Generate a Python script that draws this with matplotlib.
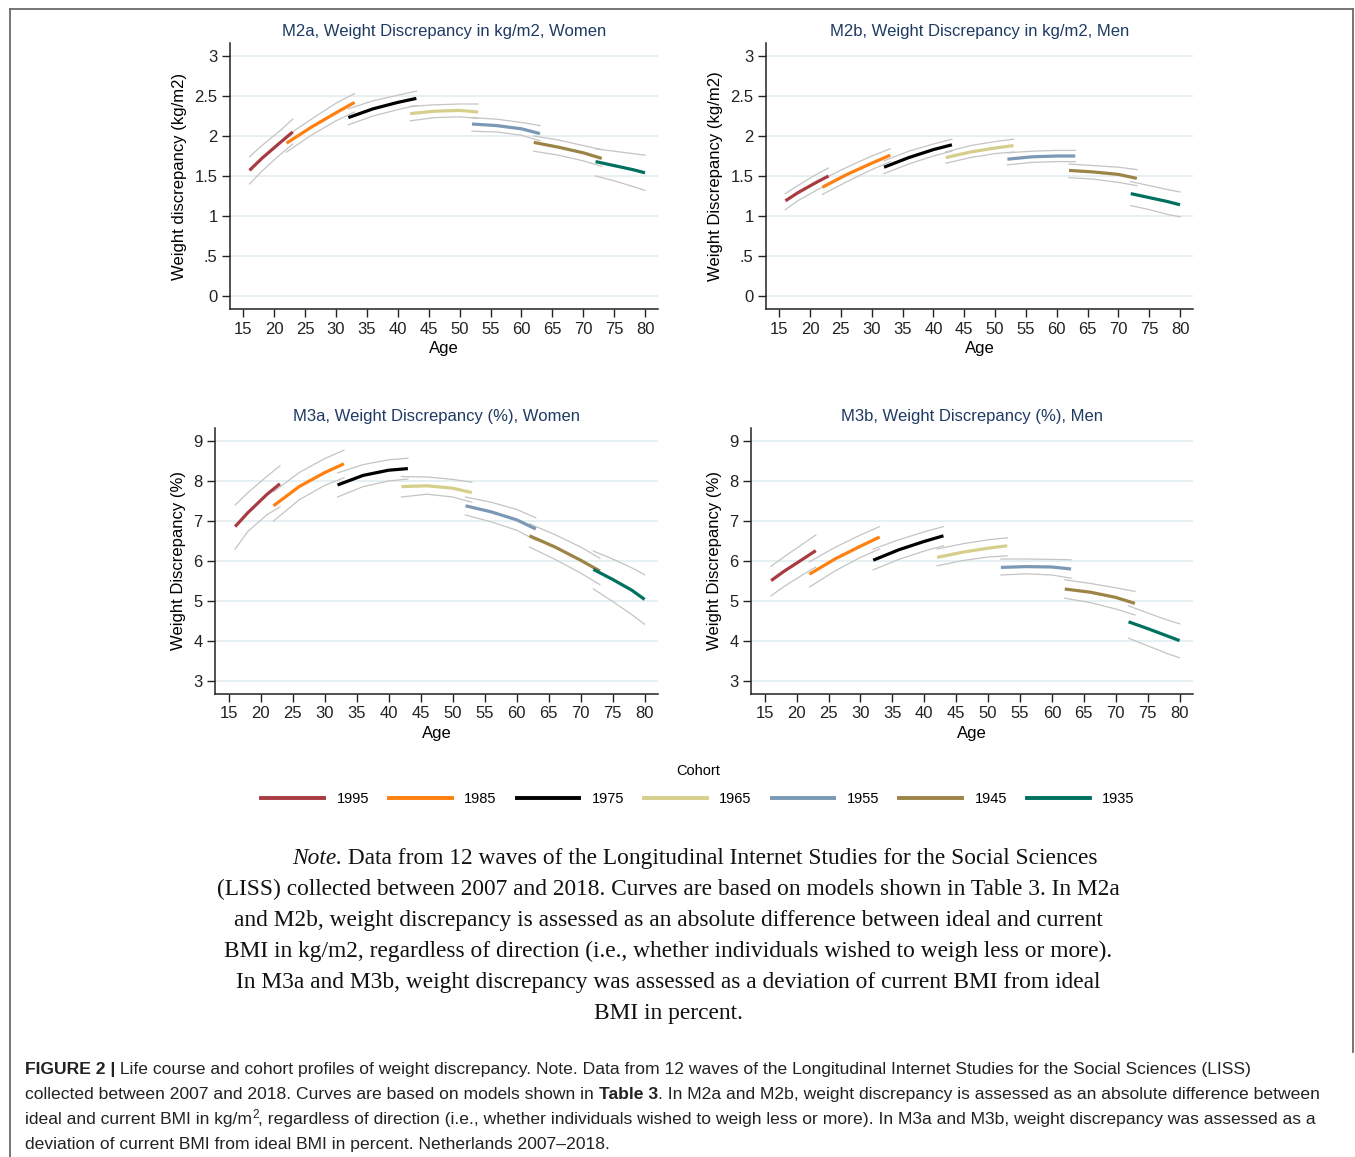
import numpy as np
import matplotlib
matplotlib.use("Agg")
from matplotlib import pyplot as plt
from matplotlib.lines import Line2D

# Data ------------------------------------------------------------------------------------------------------------
cohorts = ["1995", "1985", "1975", "1965", "1955", "1945", "1935"]
cohort_colors = ["#a83a42", "#ff8010", "#000000", "#d6cf8c", "#7b98b4", "#9c8447", "#00705f"]
ages = [[16, 18, 21, 23], [22, 26, 30, 33], [32, 36, 40, 43], [42, 46, 50, 53],
        [52, 56, 60, 63], [62, 66, 70, 73], [72, 75, 78, 80]]

m2a_est = [[1.57, 1.72, 1.92, 2.05], [1.91, 2.11, 2.29, 2.42], [2.23, 2.34, 2.42, 2.47], [2.28, 2.31, 2.32, 2.30],
           [2.15, 2.13, 2.09, 2.03], [1.92, 1.86, 1.79, 1.72], [1.68, 1.63, 1.58, 1.54]]
m2a_hi = [[1.74, 1.88, 2.07, 2.21], [2.00, 2.21, 2.41, 2.53], [2.34, 2.44, 2.51, 2.56], [2.37, 2.39, 2.40, 2.40],
          [2.23, 2.21, 2.17, 2.13], [2.00, 1.95, 1.88, 1.83], [1.84, 1.81, 1.78, 1.76]]
m2a_lo = [[1.40, 1.56, 1.77, 1.90], [1.80, 2.01, 2.19, 2.30], [2.14, 2.25, 2.33, 2.38], [2.19, 2.23, 2.24, 2.22],
          [2.06, 2.05, 2.01, 1.94], [1.81, 1.76, 1.69, 1.62], [1.50, 1.44, 1.37, 1.32]]

m2b_est = [[1.19, 1.29, 1.42, 1.50], [1.36, 1.52, 1.66, 1.76], [1.61, 1.73, 1.83, 1.89], [1.73, 1.80, 1.85, 1.88],
           [1.71, 1.74, 1.75, 1.75], [1.57, 1.55, 1.52, 1.47], [1.28, 1.23, 1.18, 1.14]]
m2b_hi = [[1.28, 1.38, 1.52, 1.60], [1.46, 1.61, 1.75, 1.84], [1.69, 1.81, 1.90, 1.96], [1.80, 1.88, 1.93, 1.96],
          [1.79, 1.81, 1.82, 1.82], [1.65, 1.63, 1.61, 1.58], [1.43, 1.38, 1.33, 1.30]]
m2b_lo = [[1.08, 1.19, 1.32, 1.40], [1.27, 1.43, 1.58, 1.68], [1.53, 1.65, 1.75, 1.81], [1.66, 1.73, 1.78, 1.80],
          [1.64, 1.67, 1.68, 1.68], [1.48, 1.46, 1.42, 1.38], [1.13, 1.08, 1.02, 0.99]]

m3a_est = [[6.86, 7.21, 7.67, 7.93], [7.38, 7.86, 8.21, 8.43], [7.90, 8.14, 8.27, 8.31], [7.86, 7.88, 7.82, 7.71],
           [7.38, 7.23, 7.03, 6.80], [6.63, 6.35, 6.02, 5.75], [5.79, 5.54, 5.27, 5.04]]
m3a_hi = [[7.40, 7.71, 8.12, 8.38], [7.73, 8.21, 8.56, 8.77], [8.20, 8.41, 8.53, 8.57], [8.11, 8.10, 8.04, 7.97],
          [7.60, 7.47, 7.29, 7.08], [6.93, 6.66, 6.35, 6.07], [6.25, 6.05, 5.83, 5.66]]
m3a_lo = [[6.30, 6.74, 7.16, 7.35], [7.00, 7.53, 7.89, 8.08], [7.60, 7.86, 8.00, 8.05], [7.60, 7.67, 7.60, 7.47],
          [7.15, 6.98, 6.77, 6.52], [6.35, 6.04, 5.70, 5.41], [5.30, 4.99, 4.66, 4.42]]

m3b_est = [[5.51, 5.74, 6.05, 6.26], [5.67, 6.05, 6.37, 6.60], [6.02, 6.28, 6.49, 6.63], [6.09, 6.22, 6.32, 6.38],
           [5.84, 5.86, 5.85, 5.80], [5.30, 5.22, 5.09, 4.94], [4.48, 4.31, 4.13, 4.01]]
m3b_hi = [[5.87, 6.10, 6.43, 6.65], [5.98, 6.34, 6.65, 6.86], [6.30, 6.53, 6.73, 6.86], [6.30, 6.43, 6.53, 6.58],
          [6.05, 6.05, 6.04, 6.03], [5.53, 5.44, 5.33, 5.24], [4.88, 4.70, 4.53, 4.43]]
m3b_lo = [[5.13, 5.36, 5.66, 5.85], [5.35, 5.75, 6.09, 6.30], [5.78, 6.04, 6.25, 6.38], [5.88, 6.01, 6.10, 6.13],
          [5.65, 5.68, 5.65, 5.57], [5.07, 4.96, 4.80, 4.65], [4.07, 3.88, 3.69, 3.58]]

x_ticks = list(range(15, 81, 5))
kg_ticks = [0, 0.5, 1, 1.5, 2, 2.5, 3]
kg_tick_labels = ["0", ".5", "1", "1.5", "2", "2.5", "3"]
pct_ticks = [3, 4, 5, 6, 7, 8, 9]
pct_tick_labels = ["3", "4", "5", "6", "7", "8", "9"]

note_lines = [
    "(LISS) collected between 2007 and 2018. Curves are based on models shown in Table 3. In M2a",
    "and M2b, weight discrepancy is assessed as an absolute difference between ideal and current",
    "BMI in kg/m2, regardless of direction (i.e., whether individuals wished to weigh less or more).",
    "In M3a and M3b, weight discrepancy was assessed as a deviation of current BMI from ideal",
    "BMI in percent.",
]

# Rendering -------------------------------------------------------------------------------------------------------
W, H = 1355, 1157
plt.rcParams['font.family'] = ['Liberation Sans', 'DejaVu Sans']
fig = plt.figure(figsize=(W / 100, H / 100), dpi=100)
TITLE_COLOR = "#1f3a63"
GRID_COLOR = "#e6eff2"


def px_axes(x0, x1, y0, y1):
    return fig.add_axes([x0 / W, 1 - y1 / H, (x1 - x0) / W, (y1 - y0) / H])


def render_panel(ax, est, hi, lo, title, ylabel, yticks, yticklabels, ylim):
    for tick in yticks:
        ax.axhline(tick, color=GRID_COLOR, lw=1.4, zorder=0)
    for i in range(len(cohorts)):
        ax.plot(ages[i], hi[i], color="#c4c4c4", lw=0.9, zorder=2)
        ax.plot(ages[i], lo[i], color="#c4c4c4", lw=0.9, zorder=2)
        ax.plot(ages[i], est[i], color=cohort_colors[i], lw=2.3, zorder=3, solid_capstyle='butt')
    ax.set_xlim(12.85, 82.1)
    ax.set_ylim(*ylim)
    ax.set_xticks(x_ticks)
    ax.set_yticks(yticks)
    ax.set_yticklabels(yticklabels)
    ax.tick_params(labelsize=12, length=5.5, width=1.0, colors="#222222", pad=3.5)
    for side in ["top", "right"]:
        ax.spines[side].set_visible(False)
    for side in ["left", "bottom"]:
        ax.spines[side].set_linewidth(1.1)
        ax.spines[side].set_color("#222222")
    ax.set_xlabel("Age", fontsize=12, labelpad=3)
    ax.set_ylabel(ylabel, fontsize=12, labelpad=5)
    ax.set_title(title, fontsize=12, color=TITLE_COLOR, pad=5)


kg_lim = (-0.1625, 3.1625)
pct_lim = (2.675, 9.325)
render_panel(px_axes(230, 658, 43, 309), m2a_est, m2a_hi, m2a_lo, "M2a, Weight Discrepancy in kg/m2, Women",
             "Weight discrepancy (kg/m2)", kg_ticks, kg_tick_labels, kg_lim)
render_panel(px_axes(766, 1193, 43, 309), m2b_est, m2b_hi, m2b_lo, "M2b, Weight Discrepancy in kg/m2, Men",
             "Weight Discrepancy (kg/m2)", kg_ticks, kg_tick_labels, kg_lim)
render_panel(px_axes(215, 658, 428, 694), m3a_est, m3a_hi, m3a_lo, "M3a, Weight Discrepancy (%), Women",
             "Weight Discrepancy (%)", pct_ticks, pct_tick_labels, pct_lim)
render_panel(px_axes(751, 1193, 428, 694), m3b_est, m3b_hi, m3b_lo, "M3b, Weight Discrepancy (%), Men",
             "Weight Discrepancy (%)", pct_ticks, pct_tick_labels, pct_lim)

handles = [Line2D([], [], color=c, lw=2.8) for c in cohort_colors]
leg = fig.legend(handles, cohorts, loc='center', bbox_to_anchor=(698 / W, 1 - 788 / H), ncol=7, frameon=False,
                 title="Cohort", fontsize=10.5, title_fontsize=10.5, handlelength=4.3, handletextpad=0.85,
                 columnspacing=1.37, borderpad=0)
leg.get_title().set_position((0, 6))

# Frame around the figure area
frame_kw = dict(color="#6a6a6a", lw=1.3, transform=fig.transFigure)
fig.add_artist(Line2D([9.5 / W, 1353 / W], [1 - 9 / H, 1 - 9 / H], **frame_kw))
fig.add_artist(Line2D([9.5 / W, 9.5 / W], [1 - 9 / H, 0], **frame_kw))
fig.add_artist(Line2D([1353 / W, 1353 / W], [1 - 9 / H, 1 - 1052 / H], **frame_kw))

renderer = fig.canvas.get_renderer()


def draw_runs(x, y, runs, size, family, color="#222222"):
    for s, kw in runs:
        dy = kw.pop('dy', 0)
        t = fig.text(x / W, 1 - (y - dy) / H, s, fontsize=kw.pop('size', size), family=family, va='baseline',
                     ha='left', color=color, **kw)
        x += t.get_window_extent(renderer).width


# Note block (serif)
serif = ['Liberation Serif', 'DejaVu Serif']
note_size = 16.8
draw_runs(292, 864, [("Note.", dict(style='italic')),
                     (" Data from 12 waves of the Longitudinal Internet Studies for the Social Sciences", {})],
          note_size, serif, color="#111111")
for i, line in enumerate(note_lines):
    fig.text(668 / W, 1 - (895 + 31 * i) / H, line, fontsize=note_size, family=serif, ha='center', va='baseline',
             color="#111111")

# Caption (sans)
cap = 12.6
draw_runs(25, 1074, [("FIGURE 2 |", dict(weight='bold')),
                     (" Life course and cohort profiles of weight discrepancy. Note. Data from 12 waves of the "
                      "Longitudinal Internet Studies for the Social Sciences (LISS)", {})], cap, 'Liberation Sans')
draw_runs(25, 1099, [("collected between 2007 and 2018. Curves are based on models shown in ", {}),
                     ("Table 3", dict(weight='bold')),
                     (". In M2a and M2b, weight discrepancy is assessed as an absolute difference between", {})],
          cap, 'Liberation Sans')
draw_runs(25, 1124, [("ideal and current BMI in kg/m", {}), ("2", dict(size=8.5, dy=6)),
                     (", regardless of direction (i.e., whether individuals wished to weigh less or more). In M3a "
                      "and M3b, weight discrepancy was assessed as a", {})], cap, 'Liberation Sans')
draw_runs(25, 1149, [("deviation of current BMI from ideal BMI in percent. Netherlands 2007\u20132018.", {})],
          cap, 'Liberation Sans')

fig.savefig("out.png", dpi=100)
